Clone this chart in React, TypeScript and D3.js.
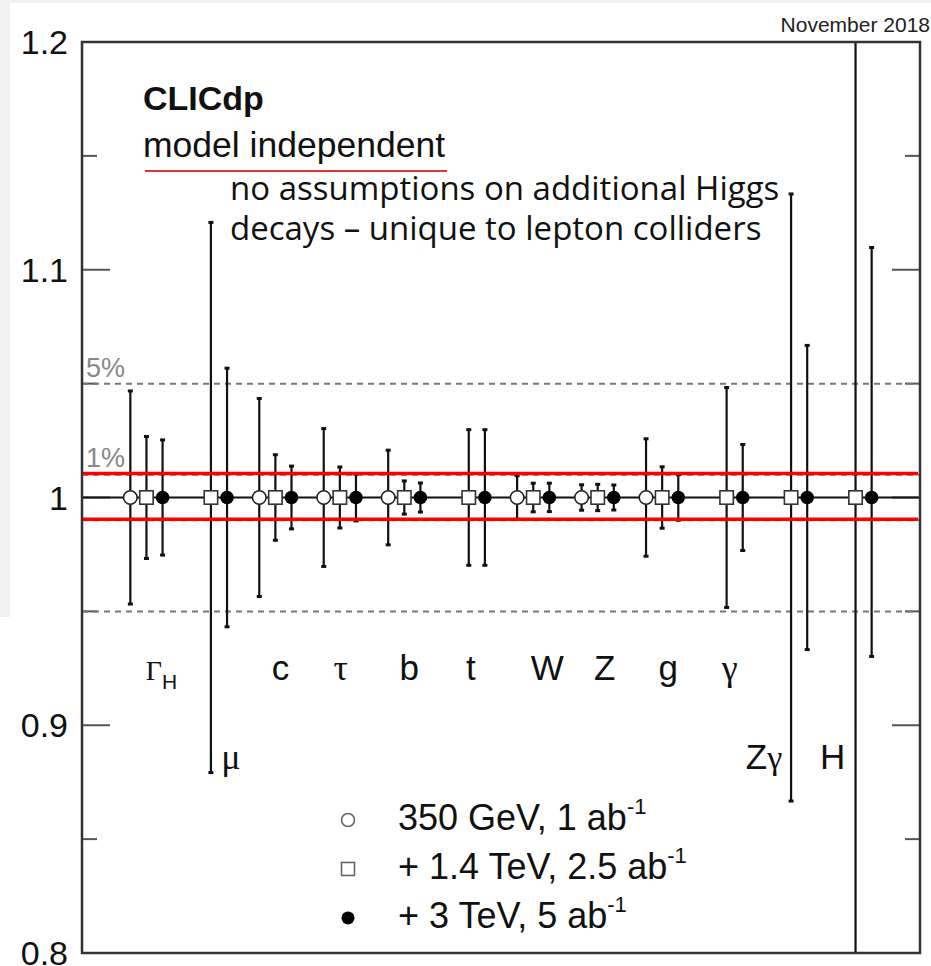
import React from 'react';
import * as d3 from 'd3';

// couplings, all normalised to 1
const categories = ['ΓH', 'μ', 'c', 'τ', 'b', 't', 'W', 'Z', 'g', 'γ', 'Zγ', 'H'];
const centralValues = [1, 1, 1, 1, 1, 1, 1, 1, 1, 1, 1, 1];

// relative uncertainties per stage (null = not measured at that stage)
const err350 = [0.047, null, 0.0437, 0.0305, 0.021, null, 0.0098, 0.0058, 0.026, null, null, null];
const err1400 = [0.027, 0.121, 0.019, 0.0136, 0.0075, 0.030, 0.0065, 0.006, 0.0137, 0.0485, 0.1335, 1.0];
const err3000Up = [0.0255, 0.057, 0.014, 0.0105, 0.0066, 0.030, 0.0065, 0.0057, 0.0102, 0.0235, 0.067, 0.110];
const err3000Down = [0.0255, 0.057, 0.014, 0.0105, 0.0066, 0.030, 0.0064, 0.0057, 0.0102, 0.0235, 0.067, 0.070];

const yTicks = [0.8, 0.9, 1.0, 1.1, 1.2];
const yTickLabels = ['0.8', '0.9', '1', '1.1', '1.2'];
const yMinorTicks = [0.85, 0.95, 1.05, 1.15];
const dashedLevels = [1.05, 1.01, 0.99, 0.95];
const redLevels = [1.0105, 0.9905];

const legendLabels = ['350 GeV, 1 ab', '+ 1.4 TeV, 2.5 ab', '+ 3 TeV, 5 ab'];

// label layout (pixel nudges from the category centre, and which row)
const labelDx = [15, 20, 5, 1, 5, 2, 14, 7, 6, 3, -27, -23];
const labelRow = [0, 1, 0, 0, 0, 0, 0, 0, 0, 0, 1, 1];

const W = 931;
const H = 966;
const left = 82, right = 920, top = 42, bottom = 953;
const SANS = '"Liberation Sans", Arial, Helvetica, sans-serif';
const SERIF = '"Liberation Serif", "DejaVu Serif", serif';

const x = d3.scaleLinear().domain([0, categories.length + 1]).range([left, right]);
const y = d3.scaleLinear().domain([0.8, 1.2]).range([bottom, top]);

const stageOffset = [-0.25, 0, 0.25];

const ErrorBar: React.FC<{ cx: number; v: number; up: number; down: number }> = ({ cx, v, up, down }) => {
  const y1 = y(v + up);
  const y2 = y(v - down);
  return (
    <g>
      <line x1={cx} x2={cx} y1={y1} y2={y2} stroke="#111" strokeWidth={2.2} />
      <rect x={cx - 2.5} y={y1 - 1} width={5} height={3} fill="#111" />
      <rect x={cx - 2.5} y={y2 - 2} width={5} height={3} fill="#111" />
    </g>
  );
};

const CatLabel: React.FC<{ name: string; cx: number; cy: number }> = ({ name, cx, cy }) => {
  if (name === 'ΓH') {
    return (
      <text x={cx} y={cy} textAnchor="middle" fill="#111">
        <tspan fontFamily={SERIF} fontSize={28}>Γ</tspan>
        <tspan fontFamily={SANS} fontSize={21} dy={9}>H</tspan>
      </text>
    );
  }
  if (name === 'Zγ') {
    return (
      <text x={cx} y={cy} textAnchor="middle" fill="#111">
        <tspan fontFamily={SANS} fontSize={35}>Z</tspan>
        <tspan fontFamily={SERIF} fontSize={34}>γ</tspan>
      </text>
    );
  }
  const greek = ['μ', 'τ', 'γ'].includes(name);
  return (
    <text x={cx} y={cy} textAnchor="middle" fill="#111"
      fontFamily={greek ? SERIF : SANS} fontSize={greek ? 36 : 35}>
      {name}
    </text>
  );
};

export default function App() {
  const legendY = [0.8584, 0.8369, 0.8154];
  return (
    <svg width={W} height={H} style={{ display: 'block', position: 'absolute', left: 0, top: 0 }}>
      <rect width={W} height={H} fill="#fff" />
      <rect x={0} y={0} width={10} height={617} fill="#f1f1f1" />
      <rect x={0} y={0} width={W} height={3} fill="#f1f1f1" />
      <defs>
        <clipPath id="plot">
          <rect x={left} y={top} width={right - left} height={bottom - top} />
        </clipPath>
      </defs>

      <text x={930} y={32} textAnchor="end" fontFamily={SANS} fontSize={21} fill="#222">November 2018</text>

      {/* y axis ticks, both sides */}
      {yTicks.map((t, i) => (
        <g key={'t' + i}>
          <line x1={left} x2={left + 28} y1={y(t)} y2={y(t)} stroke="#555" strokeWidth={2} />
          <line x1={right - 28} x2={right} y1={y(t)} y2={y(t)} stroke="#555" strokeWidth={2} />
          <text x={68} y={y(t) + 12} textAnchor="end" fontFamily={SANS} fontSize={34} fill="#111">
            {yTickLabels[i]}
          </text>
        </g>
      ))}
      {yMinorTicks.map((t, i) => (
        <g key={'m' + i}>
          <line x1={left} x2={left + 15} y1={y(t)} y2={y(t)} stroke="#555" strokeWidth={2} />
          <line x1={right - 15} x2={right} y1={y(t)} y2={y(t)} stroke="#555" strokeWidth={2} />
        </g>
      ))}

      {/* reference lines */}
      {dashedLevels.map((l, i) => (
        <line key={'d' + i} x1={left} x2={right} y1={y(l)} y2={y(l)}
          stroke="#777" strokeWidth={2} strokeDasharray="6,5" />
      ))}
      <text x={86} y={377} fontFamily={SANS} fontSize={27} fill="#888">5%</text>
      <text x={86} y={467} fontFamily={SANS} fontSize={27} fill="#888">1%</text>
      <line x1={left} x2={right} y1={y(1)} y2={y(1)} stroke="#111" strokeWidth={2} />

      {/* error bars */}
      <g clipPath="url(#plot)">
        {categories.map((c, i) => {
          const v = centralValues[i];
          return (
            <g key={c}>
              {err350[i] != null && (
                <ErrorBar cx={x(i + 1 + stageOffset[0])} v={v} up={err350[i] as number} down={err350[i] as number} />
              )}
              {err1400[i] != null && (
                <ErrorBar cx={x(i + 1 + stageOffset[1])} v={v} up={err1400[i] as number} down={err1400[i] as number} />
              )}
              <ErrorBar cx={x(i + 1 + stageOffset[2])} v={v} up={err3000Up[i]} down={err3000Down[i]} />
            </g>
          );
        })}
      </g>

      {redLevels.map((l, i) => (
        <line key={'r' + i} x1={left} x2={right - 2} y1={y(l)} y2={y(l)} stroke="#f00" strokeWidth={3.5} />
      ))}

      {/* markers */}
      {categories.map((c, i) => {
        const v = centralValues[i];
        return (
          <g key={'mk' + c}>
            {err350[i] != null && (
              <circle cx={x(i + 1 + stageOffset[0])} cy={y(v)} r={6.8} fill="#fff" stroke="#222" strokeWidth={1.6} />
            )}
            {err1400[i] != null && (
              <rect x={x(i + 1 + stageOffset[1]) - 6.7} y={y(v) - 6.7} width={13.4} height={13.4}
                fill="#fff" stroke="#333" strokeWidth={1.6} />
            )}
            <circle cx={x(i + 1 + stageOffset[2])} cy={y(v)} r={6.8} fill="#000" />
          </g>
        );
      })}

      {/* category labels */}
      {categories.map((c, i) => (
        <CatLabel key={'l' + c} name={c} cx={x(i + 1) + labelDx[i]} cy={labelRow[i] === 0 ? 680 : 769} />
      ))}

      {/* frame */}
      <rect x={left} y={top} width={right - left} height={bottom - top} fill="none" stroke="#333" strokeWidth={2.5} />

      {/* annotations */}
      <text x={143} y={110} fontFamily={SANS} fontWeight="bold" fontSize={34} fill="#111">CLICdp</text>
      <text x={143} y={157} fontFamily={SANS} fontSize={35.5} fill="#111">model independent</text>
      <line x1={145} x2={447} y1={171} y2={171} stroke="#d33" strokeWidth={2} />
      <text x={230} y={200} fontFamily={'"Open Sans", sans-serif'} fontSize={33} fill="#111">
        no assumptions on additional Higgs
      </text>
      <text x={230} y={240} fontFamily={'"Open Sans", sans-serif'} fontSize={33} fill="#111">
        decays – unique to lepton colliders
      </text>

      {/* legend */}
      {legendLabels.map((lab, i) => {
        const cy = y(legendY[i]);
        return (
          <g key={'lg' + i}>
            {i === 0 && <circle cx={348} cy={cy} r={6.5} fill="#fff" stroke="#666" strokeWidth={1.6} />}
            {i === 1 && <rect x={341.5} y={cy - 6.5} width={13} height={13} fill="#fff" stroke="#666" strokeWidth={1.6} />}
            {i === 2 && <circle cx={348} cy={cy} r={6.5} fill="#000" />}
            <text x={398} y={cy + 10} fontFamily={SANS} fontSize={36} fill="#111">
              {lab}
              <tspan fontSize={22} dy={-16}>-1</tspan>
            </text>
          </g>
        );
      })}
    </svg>
  );
}
